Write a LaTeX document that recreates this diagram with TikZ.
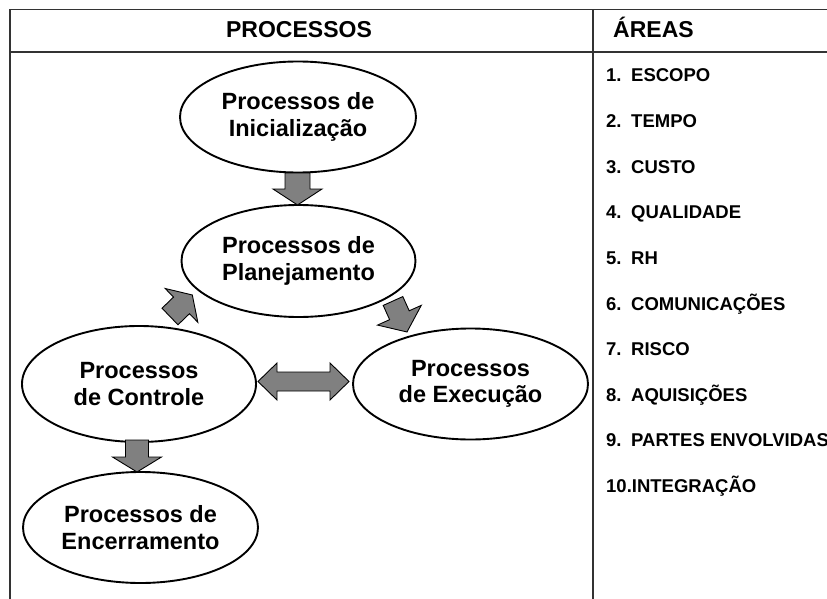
\documentclass[tikz,border=0pt]{standalone}
\usepackage{fontspec}
\setmainfont{Liberation Sans}
\usetikzlibrary{shapes.geometric}
\begin{document}
\begin{tikzpicture}[x=1pt,y=-1pt,
  grid/.style={draw=black!80,line width=1.4pt},
  proc/.style={ellipse,draw=black,line width=1.9pt,fill=white,inner sep=0pt,
    align=center,font=\fontsize{23.5}{26.5}\selectfont\bfseries},
  head/.style={font=\fontsize{23}{27}\selectfont\bfseries,anchor=base,inner sep=0pt},
  area/.style={font=\fontsize{18.5}{21}\selectfont\bfseries,anchor=base west,inner sep=0pt},
  arrowfill/.style={fill=black!50,draw=black,line width=0.9pt,line join=miter}]
\useasboundingbox (0,0) rectangle (827,599);

% table frame
\draw[grid] (10,599) -- (10,9.5) -- (827,9.5);
\draw[grid] (10,52) -- (827,52);
\draw[grid] (593,9.5) -- (593,599);

% column titles
\node[head] (tproc) at (299,37.5) {PROCESSOS};
\node[head,anchor=base west] (tarea) at (613,37.5) {ÁREAS};

% knowledge areas
\foreach \n/\t [count=\i from 0] in {1./ESCOPO,2./TEMPO,3./CUSTO,4./QUALIDADE,5./RH,
    6./COMUNICAÇÕES,7./RISCO,8./AQUISIÇÕES,9./PARTES ENVOLVIDAS}{
  \node[area] (num\i) at (606,{82+45.6*\i}) {\n};
  \node[area] (area\i) at (631,{82+45.6*\i}) {\t};
}
\node[area] (area9b) at (606,{82+45.6*9}) {10.INTEGRAÇÃO};

% process groups
\node[proc,minimum width=236,minimum height=111] (ini) at (298,117) {Processos de\\Inicialização};
\node[proc,minimum width=234,minimum height=112] (pla) at (298.5,261) {Processos de\\Planejamento};
\node[proc,minimum width=234,minimum height=116] (con) at (139,384) {Processos\\de Controle};
\node[proc,minimum width=235,minimum height=111] (exe) at (470.5,384) {Processos\\de Execução};
\node[proc,minimum width=235,minimum height=111] (enc) at (140.5,527.5) {Processos de\\Encerramento};

% block arrows: start point, angle, length, shaft half width, head half width, head length
\newcommand\blockarrow[7]{%
  \begin{scope}[shift={(#1,#2)},rotate=#3]
    \draw[arrowfill] (0,-#5) -- ({#4-#7},-#5) -- ({#4-#7},-#6) -- (#4,0)
      -- ({#4-#7},#6) -- ({#4-#7},#5) -- (0,#5) -- cycle;
  \end{scope}}
\blockarrow{297.5}{173}{-90}{32}{12.5}{24.5}{16}
\blockarrow{137}{440}{-90}{32}{11.5}{24.5}{15}
\blockarrow{170}{316.5}{44}{31}{11.5}{23.5}{15}
\blockarrow{393}{301}{-65.7}{34}{10.75}{24}{18.4}

% two-way arrow between control and execution
\draw[arrowfill] (258,381.5) -- (277,363) -- (277,372) -- (330,372) -- (330,363)
  -- (349,381.5) -- (330,400) -- (330,391) -- (277,391) -- (277,400) -- cycle;
\end{tikzpicture}
\end{document}
